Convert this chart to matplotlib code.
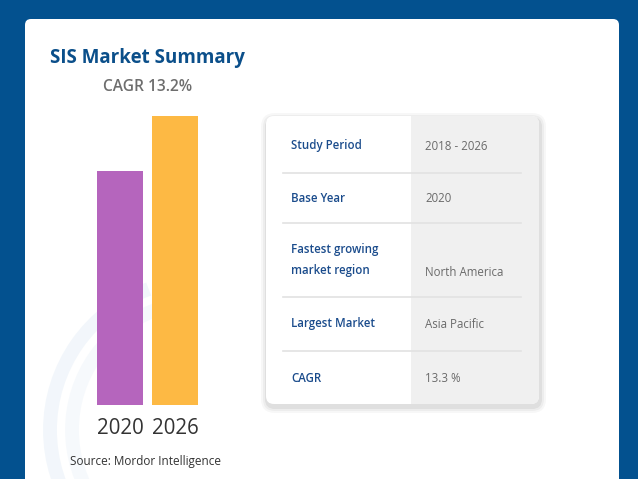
import matplotlib
matplotlib.use("Agg")
import matplotlib.pyplot as plt
from matplotlib.patches import FancyBboxPatch, Rectangle, Arc
import numpy as np

plt.rcParams['font.family'] = ['Open Sans', 'DejaVu Sans']

# ---- data ----
years = ["2020", "2026"]
values = [100.0, 123.5]
bar_colors = ["#B565BD", "#FDB944"]
title = "SIS Market Summary"
cagr_label = "CAGR 13.2%"
source = "Source: Mordor Intelligence"
row_labels = ["Study Period", "Base Year", "Fastest growing\nmarket region", "Largest Market", "CAGR"]
row_values = ["2018 - 2026", "2020", "North America", "Asia Pacific", "13.3 %"]

W, H = 638, 479
fig = plt.figure(figsize=(W / 100, H / 100), dpi=100)
fig.patch.set_facecolor("#03518F")

# overlay axes in pixel coords (y from top)
bg = fig.add_axes([0, 0, 1, 1])
bg.set_xlim(0, W)
bg.set_ylim(H, 0)
bg.axis("off")

# white card
bg.add_patch(FancyBboxPatch((25, 19), 594, 480, boxstyle="round,pad=0,rounding_size=6",
                            fc="white", ec="none", zorder=1))
# faint watermark swoosh
for r, a in [(150, 0.12), (128, 0.08)]:
    bg.add_patch(Arc((200, 430), 2 * r, 2 * r, theta1=110, theta2=250,
                     color="#DCE8F4", lw=10, alpha=a * 3, zorder=1.5))

# title texts
bg.text(50, 58, title, fontsize=13.5, fontweight="bold", color="#0B4F8A",
        va="center", ha="left", zorder=5)
bg.text(148, 87, cagr_label, fontsize=11.2, fontweight="semibold", color="#6E6E6E",
        va="center", ha="center", zorder=5)
bg.text(70, 461, source, fontsize=8.5, color="#333333", va="center", ha="left", zorder=5)

# table with shadow
tx0, tx1, ty0, ty1 = 266, 539, 116, 404
for i, (pad, al) in enumerate([(6, 0.03), (4, 0.04), (2, 0.06)]):
    bg.add_patch(FancyBboxPatch((tx0 - pad + 1, ty0 - pad + 3), tx1 - tx0 + 2 * pad, ty1 - ty0 + 2 * pad,
                                boxstyle="round,pad=0,rounding_size=%d" % (8 + pad),
                                fc="black", ec="none", alpha=al, zorder=2))
card = FancyBboxPatch((tx0, ty0), tx1 - tx0, ty1 - ty0, boxstyle="round,pad=0,rounding_size=8",
                      fc="white", ec="none", zorder=3)
bg.add_patch(card)
grey = Rectangle((411, ty0), tx1 - 411, ty1 - ty0, fc="#F0F0F0", ec="none", zorder=3.1)
bg.add_patch(grey)
grey.set_clip_path(card)

seps = [173, 223, 297, 351]
for s in seps:
    bg.plot([283, 521], [s, s], color="#E2E2E2", lw=1.2, zorder=3.5)

label_y = [146, 198, 260, 324, 378]
value_y = [146, 198, 272, 324, 378]
for lab, val, ly, vy in zip(row_labels, row_values, label_y, value_y):
    bg.text(291, ly, lab, fontsize=8.3, fontweight="semibold", color="#1B4C8C",
            va="center", ha="left", linespacing=1.75, zorder=4)
    bg.text(425, vy, val, fontsize=8.3, color="#6A6A6A", va="center", ha="left", zorder=4)

# bar chart axes
px_l, px_r, px_top, px_bot = 85, 210, 100, 405
ax = fig.add_axes([px_l / W, (H - px_bot) / H, (px_r - px_l) / W, (px_bot - px_top) / H])
ax.set_facecolor("none")
x = np.arange(len(years))
ax.bar(x, values, width=46 / 55, color=bar_colors)
ax.set_xlim(-35 / 55, 1 + 35 / 55)
ax.set_ylim(0, 305 / 2.34)
ax.set_xticks(x)
ax.set_xticklabels(years, fontsize=14.8, color="#333333")
ax.tick_params(axis="x", length=0, pad=9)
ax.set_yticks([])
for sp in ax.spines.values():
    sp.set_visible(False)

fig.savefig("out.png", dpi=100, facecolor=fig.get_facecolor())
